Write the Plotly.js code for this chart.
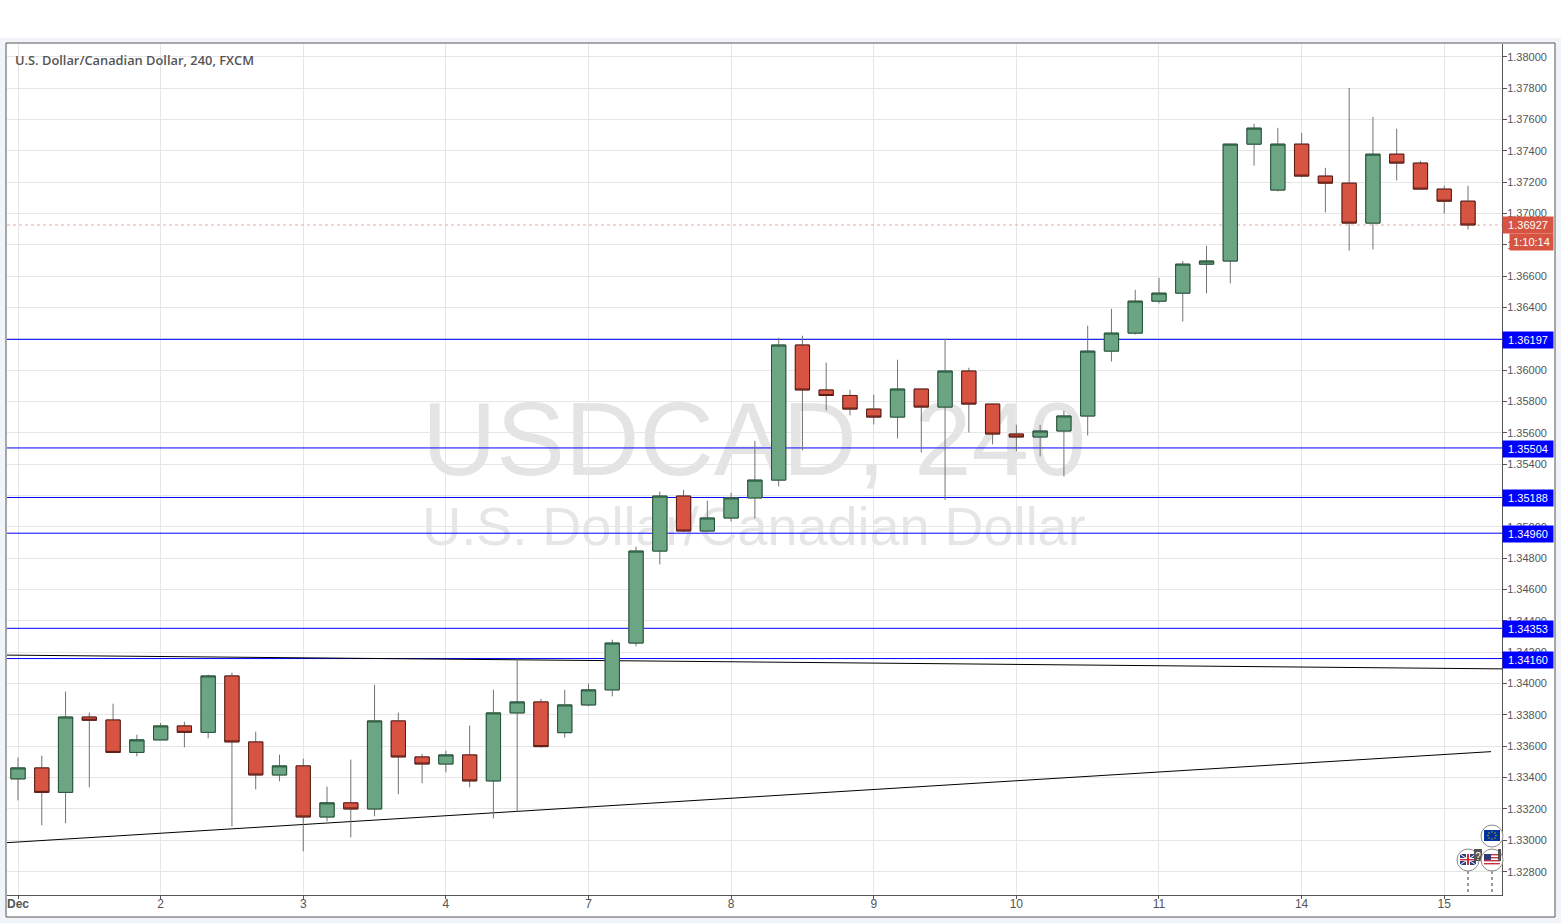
<!DOCTYPE html>
<html>
<head>
<meta charset="utf-8">
<title>USDCAD, 240</title>
<script src="https://cdn.plot.ly/plotly-3.0.1.min.js"></script>
<style>html,body{margin:0;padding:0;background:#f1f5f9;overflow:hidden}</style>
</head>
<body>
<div id="chart" style="width:1561px;height:923px"></div>
<script>
var opens = [1.33392,1.33462,1.33306,1.33787,1.33768,1.33561,1.33641,1.33730,1.33689,1.34049,1.33628,1.33417,1.33475,1.33149,1.33239,1.33200,1.33762,1.33532,1.33487,1.33545,1.33379,1.33813,1.33883,1.33687,1.33864,1.33960,1.34259,1.34846,1.35197,1.34974,1.35057,1.35185,1.35299,1.36161,1.35874,1.35839,1.35752,1.35701,1.35880,1.35765,1.35995,1.35784,1.35593,1.35574,1.35612,1.35708,1.36122,1.36237,1.36441,1.36492,1.36677,1.36697,1.37443,1.37150,1.37443,1.37239,1.37194,1.36939,1.37379,1.37322,1.37156,1.37079];
var highs = [1.33528,1.33540,1.33949,1.33815,1.33872,1.33674,1.33749,1.33757,1.34057,1.34070,1.33693,1.33547,1.33521,1.33343,1.33515,1.33993,1.33815,1.33553,1.33572,1.33732,1.33961,1.34159,1.33904,1.33961,1.34000,1.34280,1.34874,1.35225,1.35237,1.35167,1.35218,1.35550,1.36207,1.36220,1.36048,1.35875,1.35844,1.36067,1.35880,1.36201,1.36016,1.35784,1.35652,1.35652,1.35741,1.36284,1.36392,1.36513,1.36590,1.36698,1.36794,1.37443,1.37573,1.37547,1.37515,1.37292,1.37802,1.37617,1.37541,1.37336,1.37177,1.37177];
var lows = [1.33255,1.33096,1.33109,1.33338,1.33561,1.33536,1.33641,1.33593,1.33651,1.33089,1.33325,1.33376,1.32930,1.33121,1.33019,1.33153,1.33294,1.33364,1.33434,1.33338,1.33140,1.33183,1.33591,1.33655,1.33855,1.33919,1.34238,1.34761,1.34965,1.34965,1.35035,1.35054,1.35259,1.35488,1.35743,1.35712,1.35654,1.35565,1.35475,1.35172,1.35603,1.35527,1.35482,1.35450,1.35322,1.35584,1.36056,1.36228,1.36426,1.36311,1.36490,1.36554,1.37306,1.37141,1.37232,1.37007,1.36764,1.36771,1.37211,1.37156,1.37000,1.36898];
var closes = [1.33462,1.33306,1.33787,1.33766,1.33561,1.33641,1.33730,1.33689,1.34049,1.33628,1.33417,1.33475,1.33149,1.33239,1.33200,1.33762,1.33532,1.33487,1.33545,1.33379,1.33813,1.33883,1.33598,1.33864,1.33960,1.34259,1.34846,1.35197,1.34974,1.35057,1.35185,1.35299,1.36161,1.35874,1.35839,1.35752,1.35701,1.35880,1.35765,1.35995,1.35784,1.35593,1.35574,1.35612,1.35708,1.36122,1.36237,1.36441,1.36492,1.36677,1.36697,1.37443,1.37545,1.37443,1.37239,1.37194,1.36939,1.37379,1.37322,1.37156,1.37079,1.36927];

var dayTickSlots = [0,6,12,18,24,30,36,42,48,54,60];
var dayTickLabels = ['<b>Dec</b>','2','3','4','7','8','9','10','11','14','15'];

var levels = [1.36197,1.35504,1.35188,1.34960,1.34353,1.34160];
var lastPrice = 1.36927;
var countdown = '1:10:14';

var xRange = [-0.463,62.43];
var trendUpperX = [-0.463,62.43];
var trendUpperY = [1.34182,1.34094];
var trendLowerX = [-0.463,61.97];
var trendLowerY = [1.32985,1.33566];

var slots = opens.map(function(_,i){return i;});
var bodyHigh = opens.map(function(o,i){return Math.max(o,closes[i]);});
var bodyLow = opens.map(function(o,i){return Math.min(o,closes[i]);});

var UP='#6ba583', DOWN='#d75442', UPL='#225437', DOWNL='#5b1a13', WICK='#737375', AXIS='#555555';
var FONT='"Liberation Sans", Arial, sans-serif';

var W=1561,H=923,L=7,R=1502,T=44,B=895;
function px(x){return (x-L)/(R-L);}
function py(y){return (B-y)/(B-T);}
function box(x0,y0,x1,y1,fill,extra){
  var s={type:'rect',xref:'paper',yref:'paper',x0:px(x0),x1:px(x1),y0:py(y1),y1:py(y0),fillcolor:fill,line:{width:0},layer:'above'};
  if(extra){for(var k in extra){s[k]=extra[k];}}
  return s;
}
function seg(x0,y0,x1,y1,color,w,extra){
  var s={type:'line',xref:'paper',yref:'paper',x0:px(x0),x1:px(x1),y0:py(y0),y1:py(y1),line:{color:color,width:w},layer:'above'};
  if(extra){for(var k in extra){s[k]=extra[k];}}
  return s;
}
function disc(cx,cy,r){
  return {type:'circle',xref:'paper',yref:'paper',x0:px(cx-r),x1:px(cx+r),y0:py(cy+r),y1:py(cy-r),fillcolor:'#ffffff',line:{color:'#8a8a8a',width:1},layer:'above'};
}

var shapes=[];
// page panels
shapes.push(box(-10,-50,1571,38,'#ffffff',{layer:'below'}));
shapes.push(box(6,43,1555,917,'#ffffff',{layer:'below',line:{color:AXIS,width:1}}));
// watermark
shapes.push(box(299,374,1209,484,'rgba(0,0,0,0)',{layer:'below',label:{text:'USDCAD, 240',font:{family:FONT,size:103,color:'#e4e4e4'},textposition:'middle center'}}));
shapes.push(box(299,491,1209,551,'rgba(0,0,0,0)',{layer:'below',label:{text:'U.S. Dollar/Canadian Dollar',font:{family:FONT,size:54,color:'#e6e6e6'},textposition:'middle center'}}));
// horizontal levels
levels.forEach(function(v){
  shapes.push({type:'line',xref:'x',yref:'y',x0:xRange[0],x1:xRange[1],y0:v,y1:v,line:{color:'#0000ff',width:1},layer:'between'});
  shapes.push({type:'line',xref:'paper',yref:'y',x0:px(1503),x1:px(1506),y0:v,y1:v,line:{color:'#ffffff',width:1},layer:'above'});
});
shapes.push({type:'line',xref:'x',yref:'y',x0:xRange[0],x1:xRange[1],y0:lastPrice,y1:lastPrice,line:{color:'#e8a89f',width:1,dash:'dot'},layer:'between'});
shapes.push({type:'line',xref:'paper',yref:'y',x0:px(1503),x1:px(1506),y0:lastPrice,y1:lastPrice,line:{color:'#ffffff',width:1},layer:'above'});
// trend lines
shapes.push({type:'line',xref:'x',yref:'y',x0:trendUpperX[0],x1:trendUpperX[1],y0:trendUpperY[0],y1:trendUpperY[1],line:{color:'#000000',width:1},layer:'between'});
shapes.push({type:'line',xref:'x',yref:'y',x0:trendLowerX[0],x1:trendLowerX[1],y0:trendLowerY[0],y1:trendLowerY[1],line:{color:'#000000',width:1},layer:'between'});
// event markers
shapes.push(seg(1468,871,1468,895,'#9a9a9a',2,{line:{color:'#9a9a9a',width:2,dash:'dot'}}));
shapes.push(seg(1492,871,1492,895,'#9a9a9a',2,{line:{color:'#9a9a9a',width:2,dash:'dot'}}));
shapes.push(disc(1492,836,11));
shapes.push(box(1484,830,1500,841,'#003399'));
[[1492,832],[1495,833],[1496,835.5],[1495,838],[1492,839],[1489,838],[1488,835.5],[1489,833]].forEach(function(p){
  shapes.push(box(p[0]-0.6,p[1]-0.6,p[0]+0.6,p[1]+0.6,'#ffcc00'));
});
shapes.push(disc(1468,860,11));
shapes.push(box(1460,854,1476,865,'#2c3f7f'));
shapes.push(seg(1460,854,1476,865,'#ffffff',1));
shapes.push(seg(1460,865,1476,854,'#ffffff',1));
shapes.push(box(1466,854,1470,865,'#ffffff'));
shapes.push(box(1460,858,1476,861,'#ffffff'));
shapes.push(box(1467,854,1469,865,'#cf2b3a'));
shapes.push(box(1460,859,1476,860.4,'#cf2b3a'));
shapes.push(box(1474,849,1482,861,'#555555',{label:{text:'?',font:{family:FONT,size:10,color:'#ffffff'},textposition:'middle center'}}));
shapes.push(disc(1492,860,11));
shapes.push(box(1484,854,1500,865,'#ffffff'));
[854,857,860,863].forEach(function(y){shapes.push(box(1484,y,1500,y+1.4,'#c8313e'));});
shapes.push(box(1484,854,1491,860,'#2f3a72'));
shapes.push(box(1498,849,1501,861,'#555555'));

var annotations=[];
function tag(text,value,fill,w,xs,ys){
  annotations.push({xref:'paper',yref:'y',x:1,y:value,xanchor:'left',yanchor:'middle',xshift:xs||0,yshift:ys||0,text:text,showarrow:false,width:w,height:16,align:'center',valign:'middle',borderpad:0,bgcolor:fill,font:{family:FONT,size:11,color:'#ffffff'}});
}
levels.forEach(function(v){tag(v.toFixed(5),v,'#0000ff',50,0,-1);});
tag(lastPrice.toFixed(5),lastPrice,DOWN,50,0,-0.5);
tag(countdown,lastPrice,DOWN,43,7,-17);

var wicks={type:'candlestick',x:slots,open:opens,high:highs,low:lows,close:closes,whiskerwidth:0,hoverinfo:'skip',
  increasing:{line:{color:WICK,width:1},fillcolor:UP},decreasing:{line:{color:WICK,width:1},fillcolor:DOWN},name:'wicks'};
var bodies={type:'candlestick',x:slots,open:opens,high:bodyHigh,low:bodyLow,close:closes,whiskerwidth:0,
  increasing:{line:{color:UPL,width:1},fillcolor:UP},decreasing:{line:{color:DOWNL,width:1},fillcolor:DOWN},name:'USDCAD'};

var layout={
  width:W,height:H,autosize:false,showlegend:false,
  margin:{l:L,r:W-R,t:T,b:H-B,pad:0},
  paper_bgcolor:'#f1f5f9',plot_bgcolor:'#ffffff',
  boxgap:0.4,boxgroupgap:0,boxmode:'overlay',
  title:{text:'U.S. Dollar/Canadian Dollar, 240, FXCM',x:15/W,xref:'container',xanchor:'left',y:1-60.5/H,yref:'container',yanchor:'middle',font:{family:'"Open Sans", sans-serif',size:12.85,weight:600,color:'#555555'}},
  xaxis:{type:'linear',range:xRange,autorange:false,fixedrange:true,rangeslider:{visible:false},
    tickmode:'array',tickvals:dayTickSlots,ticktext:dayTickLabels,ticks:'outside',ticklen:3,tickcolor:AXIS,tickwidth:1,ticklabelstandoff:-5,
    tickfont:{family:FONT,size:12,color:AXIS},showgrid:true,gridcolor:'#e6e6e6',gridwidth:1,zeroline:false,
    showline:true,linecolor:AXIS,linewidth:1,anchor:'y'},
  yaxis:{side:'right',range:[1.32651,1.38082],autorange:false,fixedrange:true,tick0:1.328,dtick:0.002,tickformat:'.5f',
    ticks:'outside',ticklen:4,tickcolor:AXIS,tickwidth:1,ticklabelstandoff:-2,tickfont:{family:FONT,size:11,color:AXIS},
    showgrid:true,gridcolor:'#e6e6e6',gridwidth:1,zeroline:false,showline:true,linecolor:AXIS,linewidth:1,anchor:'x'},
  shapes:shapes,annotations:annotations,hovermode:'x'
};
Plotly.newPlot('chart',[wicks,bodies],layout,{displayModeBar:false,staticPlot:false,responsive:false});
</script>
</body>
</html>
